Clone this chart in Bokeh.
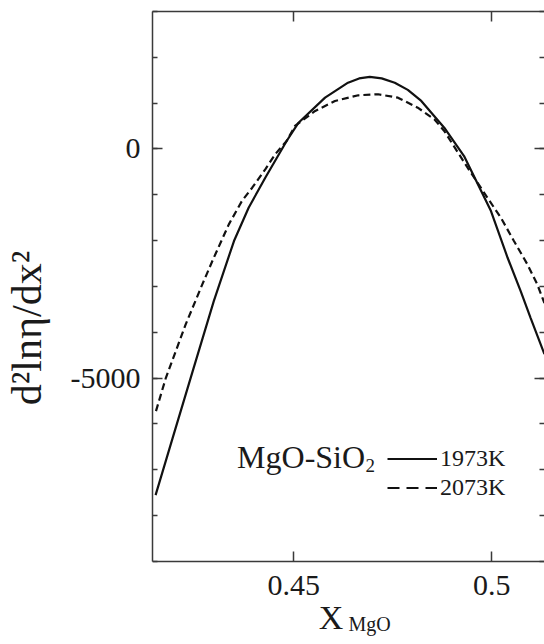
from bokeh.plotting import figure
from bokeh.models import (LinearAxis, FixedTicker, Range1d, Label, Legend, LegendItem,
                          CustomJSTickFormatter)
from bokeh.core.properties import value
from bokeh.embed import file_html
from bokeh.resources import INLINE

# ---- data ----
x_1973 = [0.4151, 0.4194, 0.4244, 0.4298, 0.4349, 0.4386, 0.4428, 0.4482, 0.4512,
          0.4579, 0.4637, 0.4665, 0.4692, 0.4722, 0.4755, 0.4788, 0.4822, 0.4880,
          0.4930, 0.4998, 0.5040, 0.5073, 0.5098, 0.5133]
y_1973 = [-7553, -6309, -4868, -3318, -2008, -1281, -627, 175, 574,
          1120, 1447, 1540, 1572, 1540, 1447, 1290, 1048, 465,
          -153, -1353, -2373, -3100, -3683, -4475]

x_2073 = [0.4152, 0.4177, 0.4202, 0.4227, 0.4269, 0.4298, 0.4336, 0.4369, 0.4395,
          0.4428, 0.4453, 0.4482, 0.4503, 0.4554, 0.4604, 0.4663, 0.4713, 0.4763,
          0.4813, 0.4855, 0.4880, 0.4939, 0.4989, 0.5023, 0.5056, 0.5090, 0.5115,
          0.5133]
y_2073 = [-5719, -4992, -4410, -3827, -2954, -2373, -1644, -1135, -845,
          -443, -116, 175, 502, 830, 1048, 1172, 1194, 1120,
          902, 648, 393, -408, -1063, -1499, -2008, -2517, -2954,
          -3362]

series_labels = ["1973K", "2073K"]
system_main = "MgO-SiO"
system_sub = "2"
x_title_main = "X"
x_title_sub = "MgO"
y_title = "d²lnη/dx²"

x_ticks = [0.45, 0.5]
x_tick_labels = ["0.45", "0.5"]
y_ticks = [-5000, 0]
y_tick_labels = ["-5000", "0"]
y_minor_ticks = [-9000, -8000, -7000, -6000, -5000, -4000, -3000, -2000, -1000,
                 0, 1000, 2000, 3000]
y_axis_bounds = (-9000, 3000)

FONT = "Liberation Serif"
INK = "#1a1a1a"
AXC = "#3a3a3a"

# the frame runs down to the page bottom; the x axis is drawn at y = -9000
p = figure(width=544, height=644, output_backend="svg", toolbar_location=None,
           x_axis_location=None,
           x_range=Range1d(0.414322, 0.513317), y_range=Range1d(-10811, 3000),
           min_border_left=150, min_border_right=0, min_border_top=11,
           min_border_bottom=0)
p.outline_line_color = None
p.grid.visible = False
p.background_fill_color = "white"
p.border_fill_color = "white"

xt = FixedTicker(ticks=x_ticks, minor_ticks=[])
yt = FixedTicker(ticks=y_ticks, minor_ticks=y_minor_ticks)
blank = CustomJSTickFormatter(code="return ''")

left = p.left[0]
left.ticker = yt
left.bounds = y_axis_bounds
top = LinearAxis(ticker=xt, formatter=blank)
right = LinearAxis(ticker=yt, formatter=blank, bounds=y_axis_bounds)
bottom = LinearAxis(ticker=xt, formatter=blank, fixed_location=y_axis_bounds[0])
p.add_layout(top, "above")
p.add_layout(bottom, "above")
p.add_layout(right, "right")

for ax in [bottom, left, top, right]:
    ax.axis_line_color = AXC
    ax.axis_line_width = 1.5
    ax.major_tick_line_color = AXC
    ax.major_tick_line_width = 1.5
    ax.minor_tick_line_color = AXC
    ax.minor_tick_line_width = 1.5
    ax.major_tick_in = 10
    ax.major_tick_out = 0
    ax.minor_tick_in = 5
    ax.minor_tick_out = 0
    ax.major_label_text_font = FONT
    ax.major_label_text_color = INK
    ax.major_label_standoff = 0

# bottom line lives in the "above" panel: its outward ticks point up into the plot
bottom.major_tick_in = 0
bottom.major_tick_out = 10

left.major_label_overrides = dict(zip(y_ticks, y_tick_labels))
left.major_label_text_font_size = "30px"
left.major_label_standoff = 12
right.axis_line_color = None

left.axis_label = y_title
left.axis_label_text_font = FONT
left.axis_label_text_font_size = "42px"
left.axis_label_text_font_style = "normal"
left.axis_label_text_color = INK
left.axis_label_standoff = 18

# x tick labels below the bottom line
p.text(x=x_ticks, y=[-9524] * len(x_ticks), text=x_tick_labels,
       text_font=value(FONT), text_font_size=value("30px"), text_color=INK,
       text_align="center", text_baseline="middle")

r1 = p.line(x_1973, y_1973, line_color="#111111", line_width=2.2)
r2 = p.line(x_2073, y_2073, line_color="#111111", line_width=2.2, line_dash="7 4")
# one-point line (draws nothing) that only supplies the legend's wider dash sample
r2_key = p.line(x=x_2073[:1], y=y_2073[:1], line_color="#111111", line_width=2.2,
                line_dash="12 7")

legend = Legend(items=[LegendItem(label=series_labels[0], renderers=[r1]),
                       LegendItem(label=series_labels[1], renderers=[r2_key])],
                location=(235, 142), glyph_width=50, glyph_height=29,
                label_height=29, label_standoff=3, spacing=0, padding=0,
                margin=0, border_line_color=None, background_fill_alpha=0,
                label_text_font=FONT, label_text_font_size="24px",
                label_text_color=INK)
p.add_layout(legend)

p.add_layout(Label(x=0.43568, y=-6724, text=system_main, text_font=FONT,
                   text_font_size="32px", text_color=INK, text_baseline="alphabetic"))
p.add_layout(Label(x=0.46809, y=-6898, text=system_sub, text_font=FONT,
                   text_font_size="19px", text_color=INK, text_baseline="alphabetic"))

p.add_layout(Label(x=0.45628, y=-10221, text=x_title_main, text_font=FONT,
                   text_font_size="34px", text_color=INK, text_baseline="alphabetic"))
p.add_layout(Label(x=0.46382, y=-10374, text=x_title_sub, text_font=FONT,
                   text_font_size="20px", text_color=INK, text_baseline="alphabetic"))

open("out.html", "w").write(file_html(p, INLINE))
